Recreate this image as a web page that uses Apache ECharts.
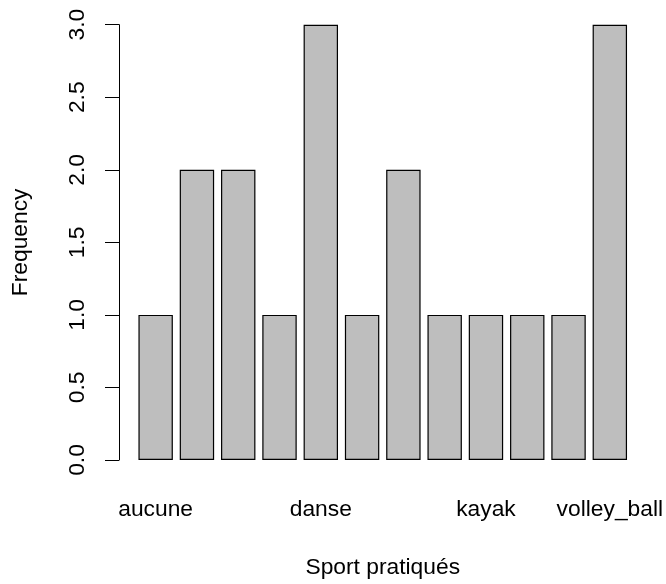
<!DOCTYPE html>
<html>
<head>
<meta charset="utf-8">
<script src="https://cdn.jsdelivr.net/npm/echarts@6/dist/echarts.min.js"></script>
<style>
  html, body { margin: 0; padding: 0; background: #fff; }
  #chart { width: 666px; height: 584px; }
</style>
</head>
<body>
<div id="chart"></div>
<script>
// Sports practised, one bar per category (counts)
const categories = ['aucune', 'badminton', 'basket', 'course', 'danse', 'equitation',
                    'football', 'handball', 'kayak', 'natation', 'tennis', 'volley_ball'];
const counts = [1, 2, 2, 1, 3, 1, 2, 1, 1, 1, 1, 3];
// Only these category labels are printed under the axis
const shownLabels = ['aucune', 'danse', 'kayak', 'volley_ball'];
const yTicks = [0, 0.5, 1, 1.5, 2, 2.5, 3];

const FONT = 'Liberation Sans, Arial, Helvetica, sans-serif';
const FS = 22.8;

const chart = echarts.init(document.getElementById('chart'), null, { renderer: 'canvas' });
chart.setOption({
  animation: false,
  backgroundColor: '#ffffff',
  grid: { left: 135, right: 34.3, top: 24.7, bottom: 120.7, containLabel: false },
  xAxis: {
    type: 'category',
    data: categories,
    boundaryGap: true,
    name: 'Sport pratiqués',
    nameLocation: 'middle',
    nameGap: 96,
    nameTextStyle: { color: '#000', fontSize: FS, fontFamily: FONT },
    axisLine: { show: false },
    axisTick: { show: false },
    axisLabel: {
      interval: 0,
      margin: 38,
      color: '#000',
      fontSize: FS,
      fontFamily: FONT,
      formatter: v => shownLabels.includes(v) ? v : ''
    }
  },
  yAxis: {
    type: 'value',
    min: yTicks[0],
    max: yTicks[yTicks.length - 1],
    interval: 0.5,
    offset: 16,
    name: 'Frequency',
    nameLocation: 'middle',
    nameGap: 87,
    nameRotate: 90,
    nameTextStyle: { color: '#000', fontSize: FS, fontFamily: FONT },
    splitLine: { show: false },
    axisLine: { show: true, lineStyle: { color: '#000', width: 1 } },
    axisTick: { show: true, length: 14, inside: false, lineStyle: { color: '#000', width: 1 } },
    axisLabel: {
      rotate: 90,
      margin: 30,
      color: '#000',
      fontSize: FS,
      fontFamily: FONT,
      formatter: v => v.toFixed(1)
    }
  },
  series: [{
    type: 'bar',
    data: counts,
    barCategoryGap: '16.67%',
    itemStyle: { color: '#bebebe', borderColor: '#000', borderWidth: 1.2 }
  }]
});
</script>
</body>
</html>
